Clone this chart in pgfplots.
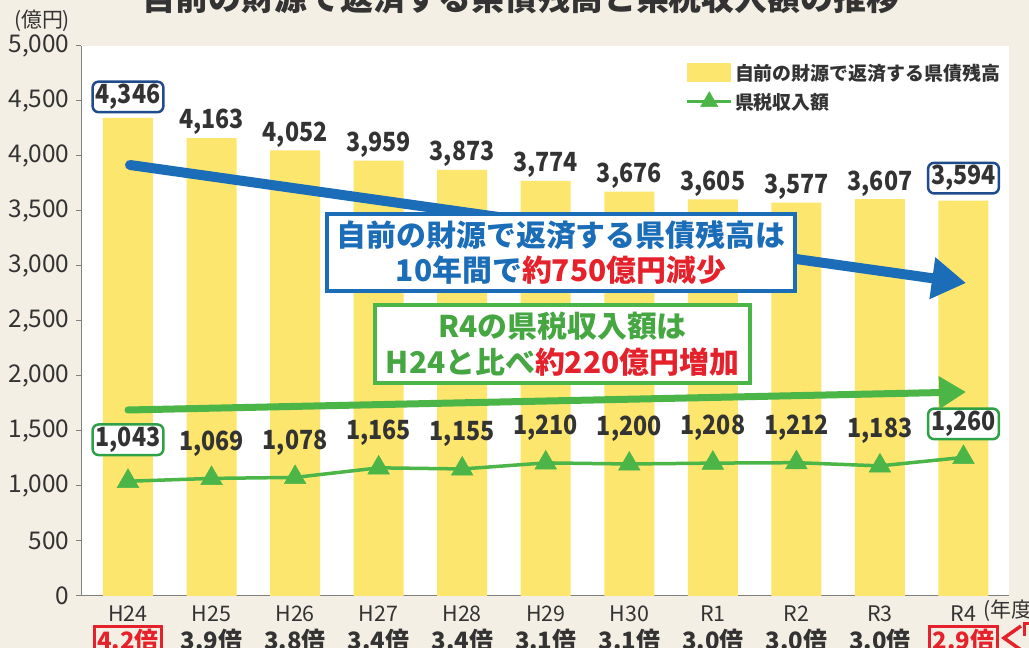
\documentclass[border=0pt]{standalone}
\usepackage{pgfplots}
\pgfplotsset{compat=1.18}
\usepackage{pgfplotstable}
\usepackage{fontspec}
\setmainfont{Noto Sans CJK JP}
\usetikzlibrary{arrows.meta}
\definecolor{bg}{HTML}{F4EFE4}
\definecolor{baryellow}{HTML}{FDE66E}
\definecolor{lgreen}{HTML}{4CB548}
\definecolor{tblue}{HTML}{1B6DB7}
\definecolor{navy}{HTML}{1F4A8C}
\definecolor{bgreen}{HTML}{2FA046}
\definecolor{tred}{HTML}{E5222C}
\definecolor{txt}{HTML}{333333}
\definecolor{axgray}{HTML}{808080}

\pgfplotstableread{
x debt tax
0 4346 1043
1 4163 1069
2 4052 1078
3 3959 1165
4 3873 1155
5 3774 1210
6 3676 1200
7 3605 1208
8 3577 1212
9 3607 1183
10 3594 1260
}\data
\pgfplotstableread{
x debt tax
1 4163 1069
2 4052 1078
3 3959 1165
4 3873 1155
5 3774 1210
6 3676 1200
7 3605 1208
8 3577 1212
9 3607 1183
}\mids
\pgfplotstableread{
x debt tax
0 4346 1043
}\first
\pgfplotstableread{
x debt tax
10 3594 1260
}\last

\pgfplotsset{
  lbl/.style={forget plot, draw=none, mark=none,
    nodes near coords={\scalebox{0.88}[1]{\pgfmathprintnumber{\pgfplotspointmeta}}}},
}
\tikzset{
  lblfont/.style={font=\fontsize{26.5}{30}\bfseries, text=txt},
  boxlbl/.style={draw=#1, line width=2.5bp, rounded corners=6bp, fill=white, inner xsep=3bp, inner ysep=2.5bp},
}

\begin{document}
\begin{tikzpicture}[x=1bp,y=1bp]
\path[use as bounding box, fill=bg] (0,0) rectangle (1029,648);
\begin{axis}[
  at={(81bp,52bp)}, anchor=south west,
  scale only axis, width=928bp, height=550bp,
  xmin=-0.5625, xmax=10.545, ymin=0, ymax=5000,
  clip=false,
  axis background/.style={fill=white},
  axis x line*=bottom, axis y line*=left,
  axis line style={axgray, line width=1bp},
  ytick={0,500,...,5000},
  tick align=outside,
  major tick length=5bp,
  tick style={axgray, line width=1bp},
  xtick={0,...,10},
  xticklabels={H24,H25,H26,H27,H28,H29,H30,R1,R2,R3,R4},
  xtick style={draw=none},
  extra x ticks={0.5,1.5,...,10.5},
  extra x tick labels={},
  extra x tick style={tick align=inside, major tick length=9bp, tick style={draw=axgray}},
  /pgf/number format/.cd, 1000 sep={,}, assume math mode=true,
  /pgfplots/.cd,
  yticklabel style={font=\fontsize{24.5}{26}\selectfont, text=txt, xshift=-3bp},
  xticklabel style={font=\fontsize{21.5}{24}\selectfont, text=txt, yshift=-1bp},
  legend style={draw=none, fill=none, at={(0.648,0.975)}, anchor=north west,
    font=\fontsize{19}{22}\bfseries, text=txt, row sep=7bp,
    nodes={inner sep=2bp}},
  legend cell align=left,
]
\addplot[ybar, bar width=50bp, fill=baryellow, draw=none,
  area legend,
  legend image code/.code={\fill[baryellow] (0bp,-9.5bp) rectangle (44bp,9.5bp);}]
  table[x=x,y=debt]{\data};
\addlegendentry{自前の財源で返済する県債残高}
\addplot[lgreen, line width=3.5bp, mark=triangle*, mark size=12.5bp,
  mark options={line width=0.5bp, fill=lgreen},
  legend image code/.code={\draw[mark repeat=2,mark phase=2, mark size=10bp] plot coordinates {(0bp,0bp) (22bp,0bp) (44bp,0bp)};}]
  table[x=x,y=tax]{\data};
\addlegendentry{県税収入額}
% bar labels
\addplot[lbl, every node near coord/.style={anchor=south, yshift=1bp, lblfont, inner sep=2bp}]
  table[x=x,y=debt]{\mids};
\addplot[lbl, every node near coord/.style={anchor=south, yshift=4.5bp, lblfont, boxlbl=navy}]
  table[x=x,y=debt]{\first};
\addplot[lbl, every node near coord/.style={anchor=south, yshift=6bp, lblfont, boxlbl=navy}]
  table[x=x,y=debt]{\last};
% line labels
\addplot[lbl, every node near coord/.style={anchor=south, yshift=20bp, lblfont, inner sep=2bp}]
  table[x=x,y=tax]{\mids};
\addplot[lbl, every node near coord/.style={anchor=south, yshift=25bp, lblfont, boxlbl=bgreen}]
  table[x=x,y=tax]{\first};
\addplot[lbl, every node near coord/.style={anchor=south, yshift=17bp, lblfont, boxlbl=bgreen}]
  table[x=x,y=tax]{\last};
\end{axis}

% arrows
\draw[tblue, line width=10bp, line cap=round, -{Triangle[length=34bp, width=40bp]}] (130,483) -- (966,365);
\draw[lgreen, line width=7bp, line cap=round, -{Triangle[length=27bp, width=31bp]}] (128,238) -- (966,256);

% annotation boxes
\node[draw=tblue, line width=4bp, fill=white, minimum width=468bp, minimum height=77bp, align=center,
  font=\fontsize{30}{35}\bfseries, text=tblue, inner sep=0pt] at (561,395.5)
  {自前の財源で返済する県債残高は\\10年間で\textcolor{tred}{約750億円減少}};
\node[draw=lgreen, line width=4bp, fill=white, minimum width=375bp, minimum height=78bp, align=center,
  font=\fontsize{30}{36}\bfseries, text=lgreen!92!black, inner sep=0pt] at (562.5,304)
  {R4の県税収入額は\\H24と比べ\textcolor{tred}{約220億円増加}};

% title and units
\node[anchor=base, font=\fontsize{33}{36}\bfseries, text=txt] at (521,637) {自前の財源で返済する県債残高と県税収入額の推移};
\node[font=\fontsize{21}{24}\selectfont, text=txt] at (42,627) {(億円)};
\node[anchor=west, font=\fontsize{21}{24}\selectfont, text=txt, inner sep=0pt] at (983,37) {(年度)};

% ratio row
\foreach \xx/\lab in {211.55/3.9倍, 295.1/3.8倍, 378.65/3.4倍, 462.2/3.4倍, 545.75/3.1倍, 629.3/3.1倍, 712.85/3.0倍, 796.4/3.0倍, 879.95/3.0倍}
  \node[anchor=north, font=\fontsize{24}{26}\bfseries, text=txt, inner sep=4bp] at (\xx,23) {\lab};
\node[anchor=north, font=\fontsize{24}{26}\bfseries, text=tred, draw=tred, line width=3bp, inner sep=3bp] at (128,23) {4.2倍};
\node[anchor=north, font=\fontsize{24}{26}\bfseries, text=tred, draw=tred, line width=3bp, inner sep=3bp] at (963.5,23) {2.9倍};
\draw[tred, line width=3.5bp] (1021,22) -- (1004,10) -- (1021,-2);
\draw[tred, line width=3bp] (1024,12) -- (1024,24) -- (1029,24);
\end{tikzpicture}
\end{document}
